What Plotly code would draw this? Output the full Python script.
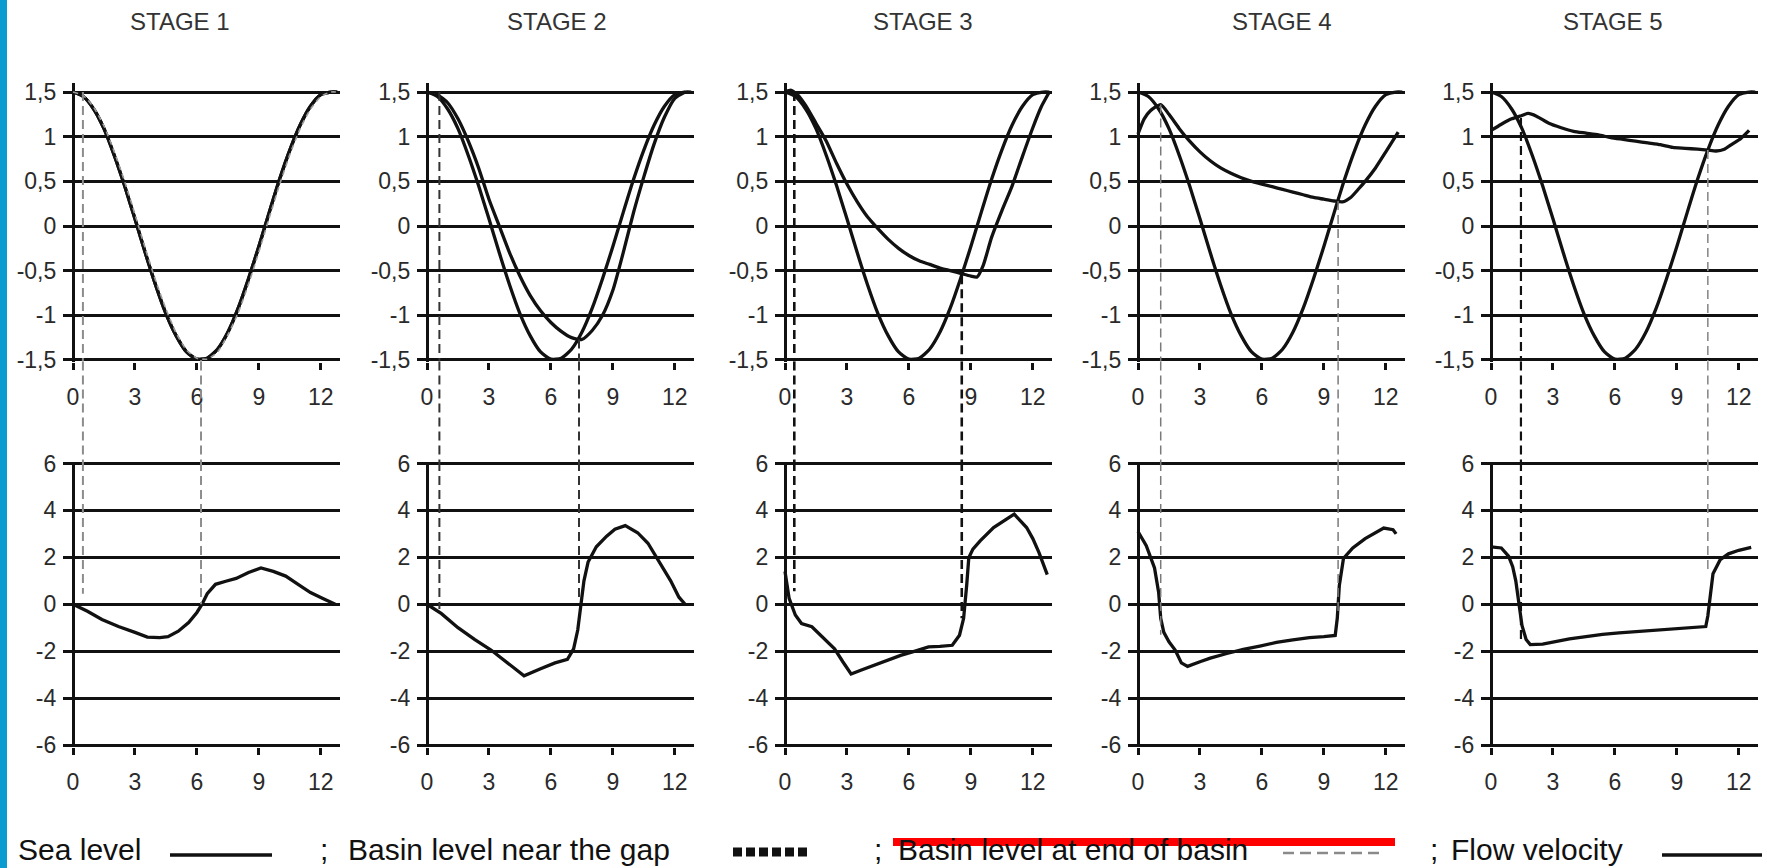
import plotly.graph_objects as go

W, H = 1767, 868
FONT = "Liberation Sans, Arial, Helvetica, sans-serif"
INK = "#111111"

# ---------------- data ----------------
stage_titles = ["STAGE 1", "STAGE 2", "STAGE 3", "STAGE 4", "STAGE 5"]
x_ticks = [0, 3, 6, 9, 12]
level_ticks = [1.5, 1, 0.5, 0, -0.5, -1, -1.5]
level_tick_text = ["1,5", "1", "0,5", "0", "-0,5", "-1", "-1,5"]
vel_ticks = [6, 4, 2, 0, -2, -4, -6]
vel_tick_text = ["6", "4", "2", "0", "-2", "-4", "-6"]

# sea level (same forcing in every stage)
sea_t = [0, 0.5, 1.0, 1.5, 2.0, 2.5, 3.0, 3.5, 4.0, 4.5, 5.0, 5.5, 6.0, 6.5,
         7.0, 7.5, 8.0, 8.5, 9.0, 9.5, 10.0, 10.5, 11.0, 11.5, 12.0, 12.5, 12.8]
sea_level = [1.5, 1.45, 1.31, 1.09, 0.79, 0.45, 0.08, -0.3, -0.66, -0.98, -1.23, -1.41,
             -1.49, -1.48, -1.38, -1.19, -0.92, -0.59, -0.23, 0.15, 0.52, 0.85, 1.13,
             1.34, 1.47, 1.5, 1.5]

# basin level near the gap
s1_basin_t = [0, 0.5, 1.0, 1.5, 2.0, 2.5, 3.0, 3.5, 4.0, 4.5, 5.0, 5.5, 6.0, 6.5,
              7.0, 7.5, 8.0, 8.5, 9.0, 9.5, 10.0, 10.5, 11.0, 11.5, 12.0, 12.5, 12.8]
s1_basin = [1.5, 1.45, 1.31, 1.09, 0.79, 0.45, 0.08, -0.3, -0.66, -0.98, -1.23, -1.41,
            -1.49, -1.48, -1.38, -1.19, -0.92, -0.59, -0.23, 0.15, 0.52, 0.85, 1.13,
            1.34, 1.47, 1.5, 1.5]
s1_basin_end = [1.5, 1.46, 1.33, 1.12, 0.83, 0.5, 0.13, -0.25, -0.61, -0.93, -1.2, -1.39,
                -1.48, -1.49, -1.41, -1.22, -0.97, -0.65, -0.29, 0.09, 0.46, 0.8, 1.09,
                1.31, 1.45, 1.5, 1.5]

s2_basin_t = [0, 0.5, 1.0, 1.5, 2.0, 2.5, 3.0, 3.5, 4.0, 4.5, 5.0, 5.5, 6.0, 6.5,
              7.0, 7.5, 8.0, 8.5, 9.0, 9.5, 10.0, 10.5, 11.0, 11.5, 12.0, 12.5]
s2_basin = [1.5, 1.47, 1.38, 1.2, 0.95, 0.65, 0.3, 0.0, -0.3, -0.56, -0.78, -0.95, -1.08,
            -1.18, -1.25, -1.27, -1.17, -1.0, -0.72, -0.3, 0.15, 0.55, 0.92, 1.22, 1.43, 1.5]

s3_basin_t = [0, 0.3, 0.6, 1.0, 1.5, 2.0, 2.5, 3.0, 3.5, 4.0, 4.5, 5.0, 5.5, 6.0, 6.5,
              7.0, 7.5, 8.0, 8.5, 9.0, 9.3, 9.6, 10.0, 10.5, 11.0, 11.5, 12.0, 12.4, 12.8]
s3_basin = [1.5, 1.52, 1.47, 1.35, 1.15, 0.95, 0.7, 0.47, 0.27, 0.1, -0.03, -0.15, -0.25,
            -0.33, -0.39, -0.43, -0.47, -0.5, -0.53, -0.56, -0.57, -0.44, -0.13, 0.17, 0.45,
            0.78, 1.1, 1.33, 1.5]

s4_basin_t = [0, 0.3, 0.6, 1.1, 1.5, 2.0, 2.5, 3.0, 3.5, 4.0, 4.5, 5.0, 5.5, 6.0, 6.5,
              7.0, 7.5, 8.0, 8.5, 9.0, 9.5, 9.9, 10.3, 10.7, 11.0, 11.5, 12.0, 12.6]
s4_basin = [1.03, 1.2, 1.29, 1.36, 1.25, 1.09, 0.95, 0.83, 0.73, 0.65, 0.59, 0.54, 0.5,
            0.47, 0.44, 0.41, 0.38, 0.35, 0.32, 0.3, 0.28, 0.27, 0.32, 0.42, 0.5, 0.65,
            0.83, 1.05]

s5_basin_t = [0, 0.5, 1.0, 1.4, 1.8, 2.2, 2.8, 3.4, 4.0, 4.6, 5.2, 5.8, 6.4, 7.0, 7.6,
              8.2, 8.8, 9.4, 10.0, 10.5, 10.9, 11.3, 11.7, 12.1, 12.5]
s5_basin = [1.07, 1.14, 1.2, 1.23, 1.26, 1.23, 1.15, 1.1, 1.06, 1.04, 1.02, 0.99, 0.97,
            0.95, 0.93, 0.91, 0.88, 0.87, 0.86, 0.85, 0.84, 0.86, 0.92, 0.98, 1.07]

# flow velocity
s1_vel_t = [0, 0.7, 1.4, 2.2, 3.0, 3.6, 4.2, 4.6, 5.1, 5.6, 6.0, 6.25, 6.5, 6.9, 7.4,
            7.9, 8.5, 9.1, 9.7, 10.3, 10.9, 11.5, 12.1, 12.7]
s1_vel = [0, -0.3, -0.65, -0.95, -1.2, -1.4, -1.42, -1.38, -1.15, -0.78, -0.35, 0, 0.45,
          0.85, 0.98, 1.1, 1.35, 1.55, 1.4, 1.2, 0.85, 0.5, 0.25, 0]

s2_vel_t = [0, 0.7, 1.5, 2.3, 3.1, 3.9, 4.7, 5.5, 6.2, 6.8, 7.1, 7.3, 7.45, 7.6, 7.8,
            8.2, 8.7, 9.1, 9.6, 10.2, 10.7, 11.2, 11.8, 12.2, 12.5]
s2_vel = [0, -0.4, -1.0, -1.5, -1.95, -2.5, -3.05, -2.75, -2.5, -2.35, -1.9, -1.1, 0,
          1.0, 1.8, 2.45, 2.9, 3.2, 3.35, 3.05, 2.6, 1.9, 1.0, 0.3, 0]

s3_vel_t = [0, 0.2, 0.5, 0.8, 1.3, 1.9, 2.4, 2.8, 3.2, 3.7, 4.3, 5.0, 5.6, 6.3, 6.95,
            7.5, 8.1, 8.45, 8.65, 8.8, 8.9, 9.1, 9.45, 10.1, 10.6, 11.1, 11.4, 11.7, 12.0,
            12.3, 12.7]
s3_vel = [1.4, 0.25, -0.46, -0.82, -0.96, -1.46, -1.9, -2.45, -2.97, -2.8, -2.6, -2.4,
          -2.18, -2.0, -1.82, -1.8, -1.75, -1.32, -0.6, 0.83, 1.98, 2.35, 2.7, 3.27, 3.55,
          3.84, 3.55, 3.27, 2.8, 2.2, 1.26]

s4_vel_t = [0, 0.4, 0.8, 1.0, 1.1, 1.25, 1.5, 1.8, 2.1, 2.4, 3.0, 3.5, 4.3, 5.1, 5.9,
            6.7, 7.5, 8.3, 9.0, 9.55, 9.65, 9.75, 9.95, 10.4, 11.0, 11.5, 11.9, 12.35, 12.5]
s4_vel = [3.1, 2.5, 1.55, 0.5, -0.6, -1.2, -1.6, -1.95, -2.5, -2.65, -2.45, -2.3, -2.1,
          -1.92, -1.78, -1.63, -1.52, -1.42, -1.38, -1.33, -0.6, 0.8, 1.95, 2.4, 2.8, 3.05,
          3.25, 3.18, 3.0]

s5_vel_t = [0, 0.5, 0.85, 1.05, 1.2, 1.35, 1.5, 1.7, 1.9, 2.5, 3.2, 3.8, 4.6, 5.4, 6.2,
            7.0, 7.8, 8.6, 9.4, 10.0, 10.4, 10.5, 10.6, 10.75, 11.1, 11.5, 12.0, 12.6]
s5_vel = [2.45, 2.4, 2.05, 1.6, 1.0, 0.0, -0.9, -1.5, -1.72, -1.7, -1.58, -1.48, -1.38,
          -1.28, -1.22, -1.17, -1.12, -1.08, -1.03, -1.0, -0.95, -0.5, 0.2, 1.3, 1.9, 2.15,
          2.3, 2.42]

# vertical guide lines: time, level where it starts (upper panel), velocity where it ends
guide_t = [[0.48, 6.2], [0.6, 7.36], [0.45, 8.56], [1.1, 9.69], [1.45, 10.5]]
guide_top = [[1.5, -1.5], [1.5, -1.27], [1.5, -0.55], [1.36, 0.28], [1.21, 0.85]]
guide_bottom = [[0.45, 0.0], [-0.2, 0.3], [0.55, -0.6], [-1.3, -0.5], [-1.5, 1.3]]

legend_labels = ["Sea level", "Basin level near the gap",
                 "Basin level at end of basin", "Flow velocity"]

basins_t = [s1_basin_t, s2_basin_t, s3_basin_t, s4_basin_t, s5_basin_t]
basins = [s1_basin, s2_basin, s3_basin, s4_basin, s5_basin]
vels_t = [s1_vel_t, s2_vel_t, s3_vel_t, s4_vel_t, s5_vel_t]
vels = [s1_vel, s2_vel, s3_vel, s4_vel, s5_vel]

# ---------------- layout geometry (pixels) ----------------
PX_PER_H = 20.65
X_RANGE = [-0.47, 12.95]
axis_px = [73, 427, 785, 1138, 1491]
TOP_PX = (83.1, 361.5)
BOT_PX = (462.0, 746.5)
LEVEL_RANGE = [-1.517, 1.6]
VEL_RANGE = [-6.064, 6.064]
title_px = [(180, 22), (557, 22), (923, 22), (1282, 22), (1613, 22)]

guide_style = [
    [("#8c8c8c", 2.0), ("#8c8c8c", 2.0)],
    [("#333333", 2.0), ("#333333", 2.0)],
    [("#111111", 2.6), ("#111111", 2.6)],
    [("#7a7a7a", 1.5), ("#7a7a7a", 1.5)],
    [("#111111", 2.2), ("#8c8c8c", 1.6)],
]


def px_x(p):
    return p / W


def px_y(p):
    return 1 - p / H


fig = go.Figure()
layout = dict(
    template="none",
    width=W, height=H, margin=dict(l=0, r=0, t=0, b=0, pad=0, autoexpand=False),
    paper_bgcolor="white", plot_bgcolor="white", showlegend=False,
    font=dict(family=FONT, color="#333333"),
)
shapes = []
annotations = []

tickfont = dict(family=FONT, size=23, color="#2a2a2a")

for i in range(5):
    top_n, bot_n = 2 * i + 1, 2 * i + 2
    xt = "x" if top_n == 1 else f"x{top_n}"
    yt = "y" if top_n == 1 else f"y{top_n}"
    xb, yb = f"x{bot_n}", f"y{bot_n}"
    left = axis_px[i] + X_RANGE[0] * PX_PER_H
    right = left + (X_RANGE[1] - X_RANGE[0]) * PX_PER_H
    xdom = [px_x(left), px_x(right)]
    top_dom = [px_y(TOP_PX[1]), px_y(TOP_PX[0])]
    bot_dom = [px_y(BOT_PX[1]), px_y(BOT_PX[0])]

    for n, ydom, yr, tv, tt, xa, ya in [
        (top_n, top_dom, LEVEL_RANGE, level_ticks, level_tick_text, xt, yt),
        (bot_n, bot_dom, VEL_RANGE, vel_ticks, vel_tick_text, xb, yb),
    ]:
        xkey = "xaxis" if n == 1 else f"xaxis{n}"
        ykey = "yaxis" if n == 1 else f"yaxis{n}"
        layout[xkey] = dict(
            domain=xdom, range=X_RANGE, anchor=ya, tickmode="array",
            tickvals=x_ticks, ticktext=[str(v) for v in x_ticks],
            ticks="outside", ticklen=7, tickwidth=3, tickcolor=INK,
            showgrid=False, zeroline=True, zerolinecolor=INK, zerolinewidth=3,
            showline=False, tickfont=tickfont, ticklabelstandoff=8, fixedrange=True,
            automargin=False,
        )
        layout[ykey] = dict(
            domain=ydom, range=yr, anchor=xa, tickmode="array",
            tickvals=tv, ticktext=tt, ticks="", showgrid=True, gridcolor=INK,
            gridwidth=3, zeroline=False, showline=False, tickfont=tickfont,
            ticklabelstandoff=6, fixedrange=True, automargin=False,
        )

    # upper panel curves
    fig.add_trace(go.Scatter(x=sea_t, y=sea_level, mode="lines", xaxis=xt, yaxis=yt,
                             line=dict(color=INK, width=3.3, shape="spline", smoothing=0.6),
                             name="Sea level"))
    fig.add_trace(go.Scatter(x=basins_t[i], y=basins[i], mode="lines", xaxis=xt, yaxis=yt,
                             line=dict(color=INK, width=3.3, shape="spline", smoothing=0.6),
                             name="Basin level near the gap"))
    if i == 0:
        fig.add_trace(go.Scatter(x=s1_basin_t, y=s1_basin_end, mode="lines", xaxis=xt,
                                 yaxis=yt, name="Basin level at end of basin",
                                 line=dict(color="#9a9a9a", width=1.6, dash="5px,4px",
                                           shape="spline", smoothing=0.6)))
    # lower panel velocity
    fig.add_trace(go.Scatter(x=vels_t[i], y=vels[i], mode="lines", xaxis=xb, yaxis=yb,
                             line=dict(color=INK, width=3.3), name="Flow velocity"))

    # guide lines spanning both panels
    for k in range(2):
        col, wid = guide_style[i][k]
        ln = dict(color=col, width=wid, dash="9px,5px")
        tg = guide_t[i][k]
        shapes.append(dict(type="line", xref=xt, yref=yt, x0=tg, x1=tg,
                           y0=guide_top[i][k], y1=LEVEL_RANGE[0], line=ln))
        shapes.append(dict(type="line", xref=xt, yref="paper", x0=tg, x1=tg,
                           y0=top_dom[0], y1=bot_dom[1], line=ln))
        shapes.append(dict(type="line", xref=xb, yref=yb, x0=tg, x1=tg,
                           y0=VEL_RANGE[1], y1=guide_bottom[i][k], line=ln))

    tx, ty = title_px[i]
    annotations.append(dict(text=stage_titles[i], x=px_x(tx), y=px_y(ty), xref="paper",
                            yref="paper", showarrow=False, xanchor="center",
                            yanchor="middle", font=dict(family=FONT, size=24, color="#333333")))

# left blue band
shapes.append(dict(type="rect", xref="paper", yref="paper", x0=0, x1=px_x(7), y0=0, y1=1,
                   fillcolor="#0a9bd1", line=dict(width=0), layer="above"))

# legend row
LEG_Y = 849
leg_font = dict(family=FONT, size=30, color="#111111")
label_left = [16, 346, 896, 1449]
semi_left = [318, 872, 1428]
for lab, lx in zip(legend_labels, label_left):
    annotations.append(dict(text=lab, x=px_x(lx), y=px_y(LEG_Y), xref="paper", yref="paper",
                            showarrow=False, xanchor="left", yanchor="middle", font=leg_font))
for sx in semi_left:
    annotations.append(dict(text=";", x=px_x(sx), y=px_y(LEG_Y), xref="paper", yref="paper",
                            showarrow=False, xanchor="left", yanchor="middle", font=leg_font))

sym_y = px_y(855)
shapes.append(dict(type="line", xref="paper", yref="paper", x0=px_x(170), x1=px_x(272),
                   y0=sym_y, y1=sym_y, line=dict(color=INK, width=3.5)))
shapes.append(dict(type="line", xref="paper", yref="paper", x0=px_x(733), x1=px_x(810),
                   y0=px_y(852), y1=px_y(852), line=dict(color=INK, width=9, dash="9px,4px")))
shapes.append(dict(type="line", xref="paper", yref="paper", x0=px_x(1283), x1=px_x(1382),
                   y0=px_y(853), y1=px_y(853), line=dict(color="#8a8a8a", width=2.5,
                                                           dash="11px,6px")))
shapes.append(dict(type="line", xref="paper", yref="paper", x0=px_x(1662), x1=px_x(1762),
                   y0=sym_y, y1=sym_y, line=dict(color=INK, width=3.5)))

# red strike line
shapes.append(dict(type="rect", xref="paper", yref="paper", x0=px_x(893), x1=px_x(1395),
                   y0=px_y(846), y1=px_y(838), fillcolor="#ff0000", line=dict(width=0),
                   layer="above"))

layout["shapes"] = shapes
layout["annotations"] = annotations
fig.update_layout(**layout)
fig.write_html("out.html",
               config={"displayModeBar": False},
               post_script="document.body.style.margin='0';"
                           "document.body.style.overflow='hidden';")
